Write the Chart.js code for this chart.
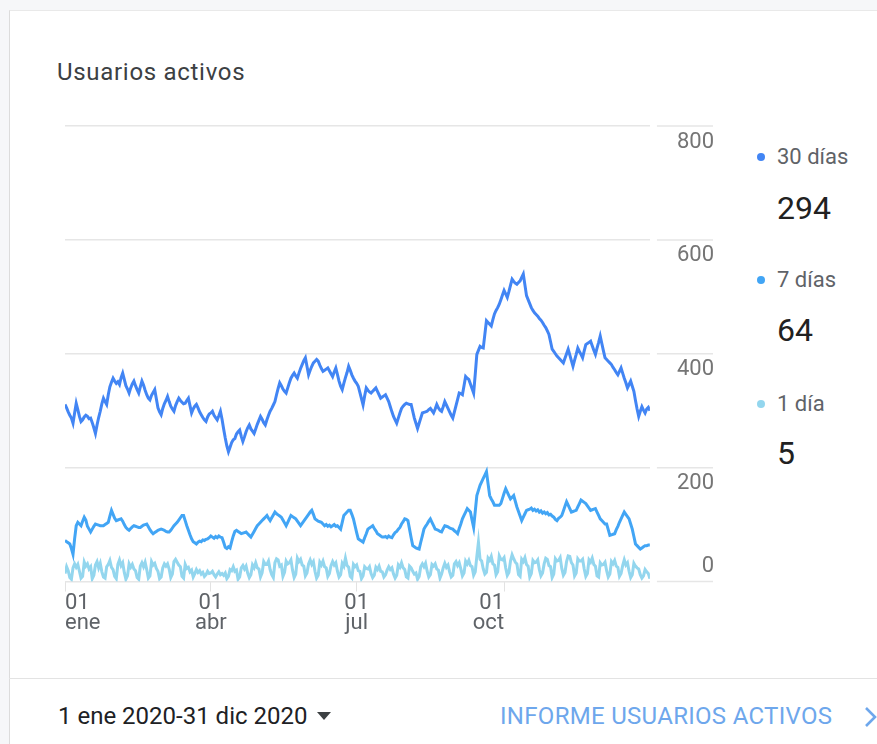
<!DOCTYPE html>
<html>
<head>
<meta charset="utf-8">
<script src="https://cdn.jsdelivr.net/npm/chart.js@4"></script>
<style>
  body { margin: 0; background: #f6f7f9; font-family: Roboto, "Noto Sans", sans-serif; overflow: hidden; }
  .card { position: absolute; left: 9px; top: 10px; width: 900px; height: 760px; background: #fff;
          border-left: 1px solid #dcdcdc; border-top: 1px solid #e9e9e9; }
  .title { position: absolute; left: 57px; top: 60px; font-size: 24px; letter-spacing: 0.7px; color: #3c4043; line-height: 1; }
  #wrap { position: absolute; left: 45px; top: 100px; width: 680px; height: 550px; }
  .leg { position: absolute; left: 777px; font-size: 22px; color: #5f6368; line-height: 1; }
  .leg i { position: absolute; left: -20px; top: 7px; width: 8px; height: 8px; border-radius: 50%; }
  .val { position: absolute; left: 777px; font-size: 32px; color: #212121; line-height: 1; }
  .foot { position: absolute; left: 9px; top: 678px; width: 900px; border-top: 1px solid #e3e3e3; }
  .range { position: absolute; left: 58px; top: 704px; font-size: 24px; color: #202124; line-height: 1; }
  .range svg { margin-left: 10px; vertical-align: 4px; }
  .link { position: absolute; left: 500px; top: 704px; font-size: 24px; letter-spacing: 0.3px; color: #6ea7ec; line-height: 1; }
  .chev { position: absolute; left: 864px; top: 706px; }
</style>
</head>
<body>
<div class="card"></div>
<div class="title">Usuarios activos</div>
<div id="wrap"><canvas id="chart"></canvas></div>

<div class="leg" style="top:146px"><i style="background:#4285f4"></i>30 días</div>
<div class="val" style="top:192px">294</div>
<div class="leg" style="top:269px"><i style="background:#42a5f5"></i>7 días</div>
<div class="val" style="top:314px">64</div>
<div class="leg" style="top:393px"><i style="background:#93d6ee"></i>1 día</div>
<div class="val" style="top:437px">5</div>

<div class="foot"></div>
<div class="range">1 ene 2020-31 dic 2020<svg width="14" height="8" viewBox="0 0 14 8"><polygon points="0,0 14,0 7,8" fill="#3c4043"/></svg></div>
<div class="link">INFORME USUARIOS ACTIVOS</div>
<svg class="chev" width="14" height="22" viewBox="0 0 14 22"><polyline points="2,2 11,11 2,20" fill="none" stroke="#6ea7ec" stroke-width="2.6"/></svg>

<script>
// x ticks: day of year 2020 (0 = 1 ene)
const tickDays = [0, 91, 182, 274];
const tickLabels = [['01', 'ene'], ['01', 'abr'], ['01', 'jul'], ['01', 'oct']];

const seriesNames = ['30 días', '7 días', '1 día'];
const seriesColors = ['#4285f4', '#42a5f5', '#93d6ee'];

// daily values, 1 ene .. 31 dic 2020
const users30 = [
  311, 305, 298, 292, 287, 278, 296, 313, 302, 290,
  281, 284, 289, 292, 290, 286, 287, 279, 270, 260,
  275, 288, 299, 312, 322, 316, 311, 328, 342, 350,
  357, 352, 348, 351, 346, 358, 366, 355, 344, 338,
  331, 340, 347, 352, 344, 337, 331, 342, 352, 345,
  336, 328, 322, 319, 327, 332, 337, 321, 305, 298,
  293, 304, 312, 318, 325, 316, 308, 303, 299, 309,
  316, 322, 318, 315, 312, 313, 318, 322, 309, 296,
  303, 308, 311, 305, 298, 293, 288, 284, 281, 289,
  294, 296, 299, 292, 288, 284, 291, 299, 285, 268,
  252, 238, 228, 236, 244, 249, 251, 259, 263, 266,
  255, 246, 254, 263, 270, 275, 268, 264, 260, 268,
  276, 283, 290, 285, 279, 275, 284, 292, 299, 304,
  310, 316, 328, 339, 349, 344, 338, 334, 331, 340,
  349, 357, 362, 366, 361, 357, 366, 374, 381, 388,
  393, 378, 363, 371, 378, 384, 387, 390, 387, 380,
  374, 369, 371, 373, 375, 370, 365, 360, 368, 375,
  364, 352, 343, 337, 348, 358, 367, 378, 371, 363,
  357, 352, 348, 343, 332, 321, 310, 326, 340, 336,
  333, 331, 334, 337, 340, 334, 328, 322, 324, 326,
  328, 322, 316, 307, 298, 290, 284, 278, 287, 296,
  304, 308, 311, 313, 312, 311, 311, 299, 287, 278,
  269, 278, 287, 296, 297, 298, 299, 302, 304, 300,
  296, 303, 311, 305, 301, 299, 307, 316, 310, 304,
  298, 292, 287, 298, 309, 320, 331, 330, 328, 344,
  360, 357, 355, 347, 339, 331, 364, 399, 406, 413,
  411, 410, 434, 458, 455, 452, 449, 460, 470, 476,
  481, 487, 495, 503, 511, 505, 499, 509, 520, 531,
  527, 524, 522, 525, 528, 534, 540, 521, 502, 495,
  488, 481, 476, 472, 469, 466, 462, 459, 455, 450,
  446, 440, 434, 421, 408, 404, 400, 396, 393, 390,
  387, 384, 392, 400, 408, 398, 388, 378, 389, 399,
  410, 404, 399, 393, 405, 416, 418, 420, 422, 414,
  406, 399, 410, 420, 431, 418, 405, 393, 390, 387,
  384, 381, 376, 372, 367, 363, 369, 375, 366, 357,
  349, 340, 346, 352, 343, 334, 318, 303, 290, 299,
  307, 301, 296, 303, 306, 300
];

const users7 = [
  72, 70, 68, 66, 58, 48, 75, 98, 104, 101,
  98, 106, 113, 108, 97, 92, 87, 92, 97, 101,
  100, 99, 98, 98, 98, 100, 102, 104, 115, 125,
  118, 111, 107, 108, 109, 110, 106, 100, 95, 92,
  90, 93, 96, 98, 97, 96, 95, 95, 97, 99,
  100, 101, 96, 91, 87, 84, 86, 88, 90, 91,
  92, 91, 90, 88, 87, 87, 90, 94, 98, 101,
  104, 108, 112, 116, 116, 107, 98, 90, 82, 75,
  70, 68, 66, 69, 71, 70, 73, 72, 74, 75,
  77, 80, 78, 76, 79, 77, 80, 78, 77, 69,
  60, 58, 61, 59, 70, 80, 88, 90, 88, 86,
  84, 85, 86, 87, 84, 81, 78, 83, 88, 93,
  98, 101, 104, 107, 110, 113, 116, 111, 107, 112,
  117, 122, 119, 117, 115, 113, 108, 103, 98, 104,
  110, 116, 114, 112, 110, 106, 102, 98, 102, 106,
  110, 114, 118, 122, 125, 118, 110, 108, 106, 105,
  104, 101, 98, 100, 97, 99, 96, 98, 100, 97,
  98, 95, 92, 104, 116, 119, 122, 125, 125, 118,
  110, 98, 86, 75, 73, 71, 69, 77, 84, 92,
  94, 96, 98, 93, 89, 84, 82, 80, 78, 78,
  79, 77, 80, 78, 77, 82, 86, 88, 92, 95,
  101, 105, 110, 109, 107, 92, 77, 63, 61, 59,
  58, 57, 69, 80, 92, 97, 101, 106, 110, 104,
  98, 92, 91, 90, 88, 87, 93, 98, 97, 96,
  94, 93, 92, 89, 87, 84, 93, 101, 110, 116,
  122, 128, 125, 122, 108, 95, 123, 151, 160, 169,
  175, 181, 187, 193, 172, 151, 145, 140, 134, 134,
  134, 134, 137, 146, 155, 163, 157, 151, 145, 148,
  151, 141, 131, 123, 115, 107, 113, 119, 125, 126,
  127, 129, 125, 127, 124, 126, 122, 124, 120, 122,
  119, 121, 117, 118, 115, 113, 109, 107, 111, 113,
  116, 124, 132, 140, 134, 128, 122, 123, 124, 125,
  131, 137, 143, 141, 139, 137, 133, 129, 125, 126,
  127, 128, 122, 116, 110, 107, 104, 101, 101, 91,
  81, 82, 83, 84, 91, 97, 104, 110, 116, 122,
  118, 114, 110, 101, 92, 79, 66, 63, 60, 57,
  59, 61, 63, 63, 64, 64
];

// one row per week, starting Wed 1 ene
const users1 = [
  14, 26, 19, 7, 4, 24, 31,
  25, 30, 18, 6, 9, 34, 27,
  31, 22, 26, 5, 11, 29, 35,
  24, 32, 17, 8, 6, 26, 30,
  37, 25, 21, 9, 5, 30, 38,
  28, 33, 16, 4, 10, 31, 25,
  30, 22, 19, 7, 4, 27, 33,
  26, 34, 21, 6, 10, 35, 29,
  32, 23, 18, 5, 8, 24, 31,
  27, 31, 22, 7, 13, 35, 39,
  34, 29, 26, 9, 6, 30, 23,
  25, 17, 20, 8, 14, 21, 16,
  19, 13, 16, 9, 12, 18, 14,
  15, 18, 12, 8, 13, 17, 12,
  14, 11, 15, 5, 9, 21, 19,
  26, 18, 20, 4, 8, 24, 28,
  22, 27, 15, 7, 12, 29, 24,
  33, 24, 22, 8, 15, 35, 30,
  30, 36, 21, 12, 7, 33, 40,
  38, 27, 29, 9, 16, 36, 31,
  33, 38, 20, 7, 13, 41, 35,
  39, 29, 27, 10, 15, 31, 38,
  30, 35, 18, 6, 11, 34, 29,
  36, 26, 24, 9, 14, 28, 35,
  29, 33, 18, 8, 12, 32, 27,
  41, 28, 25, 9, 6, 30, 26,
  29, 19, 18, 5, 10, 26, 23,
  22, 26, 14, 7, 11, 25, 21,
  27, 18, 17, 8, 12, 20, 26,
  21, 24, 13, 6, 11, 29, 25,
  33, 24, 21, 8, 6, 27, 24,
  18, 13, 15, 4, 9, 26, 31,
  26, 32, 18, 8, 12, 30, 27,
  31, 22, 20, 6, 13, 24, 32,
  25, 29, 17, 8, 11, 31, 35,
  28, 33, 22, 10, 15, 36, 31,
  37, 28, 26, 11, 17, 44, 69,
  39, 36, 22, 13, 16, 41, 37,
  44, 31, 29, 12, 17, 45, 39,
  38, 42, 24, 11, 16, 36, 47,
  40, 34, 31, 12, 9, 39, 35,
  42, 30, 27, 8, 14, 37, 33,
  34, 38, 21, 10, 15, 31, 41,
  39, 28, 26, 7, 13, 40, 36,
  37, 42, 23, 11, 16, 35, 45,
  44, 33, 29, 10, 15, 40, 36,
  36, 39, 22, 9, 14, 38, 34,
  41, 30, 27, 10, 8, 33, 29,
  30, 34, 19, 8, 13, 35, 31,
  37, 27, 25, 9, 14, 28, 38,
  29, 33, 18, 7, 12, 32, 27,
  24, 22, 12, 6, 10, 21, 17,
  14, 5
];

const days = users30.map((v, i) => i);
const allSeries = [users30, users7, users1];

const datasets = allSeries.map((vals, i) => ({
  label: seriesNames[i],
  data: vals,
  borderColor: seriesColors[i],
  borderWidth: 3,
  pointRadius: 0,
  tension: 0,
  fill: false
}));

// gridlines continue past the plot, above the y labels, after a small gap
const gridTails = {
  id: 'gridTails',
  afterDraw(chart) {
    const y = chart.scales.y;
    const c = chart.ctx;
    c.save();
    c.strokeStyle = '#e6e6e6';
    c.lineWidth = 1.5;
    y.ticks.forEach(t => {
      const py = y.getPixelForValue(t.value);
      c.beginPath();
      c.moveTo(chart.chartArea.right + 7, py);
      c.lineTo(y.right - 1, py);
      c.stroke();
    });
    c.restore();
  }
};

const ctx = document.getElementById('chart');
new Chart(ctx, {
  type: 'line',
  data: { labels: days, datasets: datasets },
  plugins: [gridTails],
  options: {
    responsive: true,
    maintainAspectRatio: false,
    animation: false,
    layout: { padding: { left: 20, right: 11, top: 26, bottom: 14 } },
    plugins: { legend: { display: false }, tooltip: { enabled: false } },
    scales: {
      x: {
        type: 'linear',
        min: 0,
        max: 365,
        afterBuildTicks: (axis) => { axis.ticks = tickDays.map(v => ({ value: v })); },
        grid: { drawOnChartArea: false, color: '#e2e2e2', tickLength: 10 },
        border: { display: false },
        ticks: {
          align: 'inner',
          padding: 2,
          color: '#5f6368',
          font: { family: 'Roboto', size: 22, lineHeight: 0.92 },
          maxRotation: 0,
          autoSkip: false,
          callback: (v) => tickLabels[tickDays.indexOf(v)]
        }
      },
      y: {
        position: 'right',
        min: 0,
        max: 800,
        grid: { color: '#e6e6e6', lineWidth: 1.5, drawTicks: false },
        border: { display: false },
        afterFit: (scale) => { scale.paddingTop = 0; scale.paddingBottom = 0; },
        ticks: {
          stepSize: 200,
          crossAlign: 'far',
          padding: 13.5,
          labelOffset: 16,
          color: '#757575',
          font: { family: 'Roboto', size: 22, lineHeight: 1.4 },
          // the bottom label sits above its line, the others below
          callback: (v) => v === 0 ? ['0', '', ''] : String(v)
        }
      }
    }
  }
});
</script>
</body>
</html>
